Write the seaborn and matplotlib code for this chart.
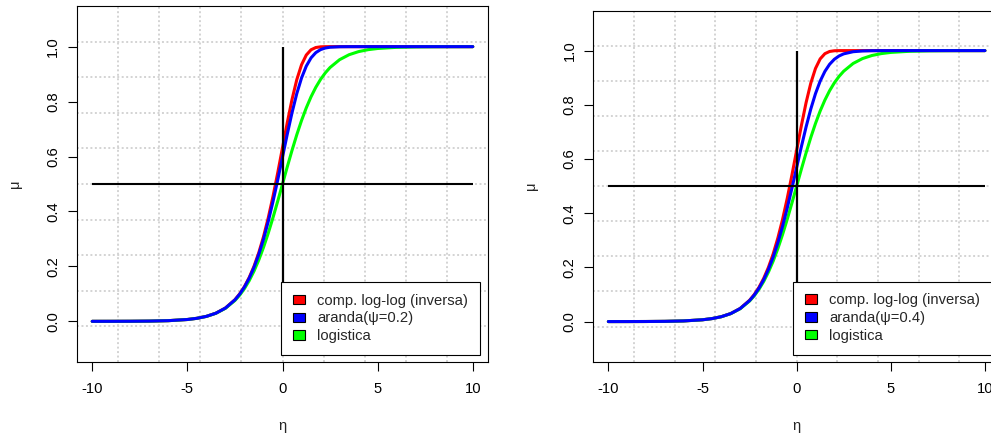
import numpy as np
import pandas as pd
import matplotlib
matplotlib.use("Agg")
import matplotlib.pyplot as plt
from matplotlib.patches import Patch
import seaborn as sns

# ---------------- data ----------------
eta = [-10, -9, -8, -7, -6, -5, -4.5, -4, -3.5, -3, -2.5,
       -2.25, -2, -1.75, -1.5, -1.25, -1, -0.75, -0.5, -0.25, 0,
       0.25, 0.5, 0.75, 1, 1.25, 1.5, 1.75, 2, 2.25, 2.5,
       3, 3.5, 4, 4.5, 5, 6, 7, 8, 9, 10]

mu_cloglog = [0.0000454, 0.0001234, 0.0003354, 0.0009115, 0.002476, 0.006715, 0.011048, 0.018149, 0.029746, 0.048568, 0.078806,
              0.100024, 0.126577, 0.159513, 0.199989, 0.249117, 0.307799, 0.376455, 0.454761, 0.541043, 0.632121,
              0.723072, 0.807704, 0.879607, 0.934012, 0.969516, 0.988686, 0.996832, 0.999382, 0.999924, 0.999995,
              1.0, 1.0, 1.0, 1.0, 1.0, 1.0, 1.0, 1.0, 1.0, 1.0]

mu_logistic = [0.0000454, 0.0001234, 0.0003354, 0.000911, 0.002473, 0.006693, 0.010987, 0.017986, 0.029312, 0.047426, 0.075858,
               0.095349, 0.119203, 0.148047, 0.182426, 0.222700, 0.268941, 0.320821, 0.377541, 0.437823, 0.5,
               0.562177, 0.622459, 0.679179, 0.731059, 0.777300, 0.817574, 0.851953, 0.880797, 0.904651, 0.924142,
               0.952574, 0.970688, 0.982014, 0.989013, 0.993307, 0.997527, 0.999089, 0.999665, 0.999877, 0.999955]

mu_aranda_02 = [0.0000454, 0.0001234, 0.0003354, 0.0009114, 0.002475, 0.006711, 0.011035, 0.018116, 0.029657, 0.048334, 0.078193,
                0.099039, 0.125003, 0.157031, 0.196112, 0.243157, 0.298809, 0.363242, 0.435870, 0.515089, 0.598122,
                0.681096, 0.759476, 0.828854, 0.885910, 0.929169, 0.959223, 0.978279, 0.989293, 0.995104, 0.997913,
                0.999685, 0.999961, 0.999996, 1.0, 1.0, 1.0, 1.0, 1.0, 1.0, 1.0]

mu_aranda_04 = [0.0000454, 0.0001234, 0.0003354, 0.0009113, 0.002475, 0.006706, 0.011023, 0.018084, 0.029570, 0.048102, 0.077591,
                0.098078, 0.123483, 0.154647, 0.192432, 0.237569, 0.290508, 0.351226, 0.419021, 0.492353, 0.568799,
                0.645215, 0.718120, 0.784250, 0.841134, 0.887482, 0.923273, 0.949521, 0.967866, 0.980139, 0.988037,
                0.995924, 0.998695, 0.999599, 0.999880, 0.999965, 0.999997, 1.0, 1.0, 1.0, 1.0]

psi_values = [0.2, 0.4]
aranda_series = [mu_aranda_02, mu_aranda_04]

label_cloglog = "comp. log-log (inversa)"
label_logistic = "logistica"
xticks = [-10, -5, 0, 5, 10]
yticks = [0.0, 0.2, 0.4, 0.6, 0.8, 1.0]
ytick_labels = ["0.0", "0.2", "0.4", "0.6", "0.8", "1.0"]
ylim_base = (-0.1, 1.1)
hline_mu = 0.5
vline_eta = 0.0

# ---------------- style ----------------
sns.set_theme(style="white")
plt.rcParams["font.family"] = ["Liberation Sans", "DejaVu Sans"]
FS = 10.6

fig = plt.figure(figsize=(9.91, 4.37), dpi=100)
W, H = 991.0, 437.0
# axes boxes in pixels: (left, top, right, bottom)
boxes = [(77, 6, 488, 362), (593.3, 10.5, 1000.0, 361.7)]
ylabel_right_px = [22.0, 538.0]

xr = max(eta) - min(eta)
xlim = (min(eta) - 0.04 * xr, max(eta) + 0.04 * xr)
yr = ylim_base[1] - ylim_base[0]
ylim = (ylim_base[0] - 0.04 * yr, ylim_base[1] + 0.04 * yr)

for i, (l, t, r, b) in enumerate(boxes):
    ax = fig.add_axes([l / W, 1 - b / H, (r - l) / W, (b - t) / H])
    ax.set_xlim(*xlim)
    ax.set_ylim(*ylim)
    ax.set_facecolor("white")

    # R-style grid(): equally spaced in plot region
    for gx in np.linspace(xlim[0], xlim[1], 11)[1:-1]:
        ax.axvline(gx, color="#D3D3D3", lw=1.4, ls=(0, (1, 1.3)), zorder=0)
    for gy in np.linspace(ylim[0], ylim[1], 11)[1:-1]:
        ax.axhline(gy, color="#D3D3D3", lw=1.4, ls=(0, (1, 1.3)), zorder=0)

    df = pd.DataFrame({"eta": eta, "cloglog": mu_cloglog,
                       "logistic": mu_logistic, "aranda": aranda_series[i]})
    sns.lineplot(data=df, x="eta", y="cloglog", color="#FF0000", lw=2.2,
                 estimator=None, ax=ax, zorder=3)
    sns.lineplot(data=df, x="eta", y="logistic", color="#00FF00", lw=2.2,
                 estimator=None, ax=ax, zorder=3)
    sns.lineplot(data=df, x="eta", y="aranda", color="#0000FF", lw=2.2,
                 estimator=None, ax=ax, zorder=3)

    ax.hlines(hline_mu, min(eta), max(eta), color="black", lw=1.5, zorder=4)
    ax.vlines(vline_eta, 0, 1, color="black", lw=1.6, zorder=4)

    ax.set_xticks(xticks)
    ax.set_xticklabels([str(v) for v in xticks], fontsize=FS, color="black")
    ax.set_yticks(yticks)
    ax.set_yticklabels(ytick_labels, fontsize=FS, color="black",
                       rotation=90, va="center")
    ax.tick_params(axis="both", direction="out", length=6.5, width=0.8,
                   color="black", bottom=True, left=True)
    ax.tick_params(axis="x", pad=8.0)
    ax.tick_params(axis="y", pad=5.5)
    for sp in ax.spines.values():
        sp.set_visible(True)
        sp.set_color("black")
        sp.set_linewidth(0.8)

    wpx = r - l
    hpx = b - t
    ax.set_xlabel("η", fontsize=FS)
    ax.set_ylabel("μ", fontsize=FS, rotation=90)
    ax.xaxis.set_label_coords(0.5, -(419 - b) / hpx)
    ax.yaxis.set_label_coords(-(l - ylabel_right_px[i]) / wpx, 0.5)

    handles = [Patch(facecolor="#FF0000", edgecolor="black", lw=0.8),
               Patch(facecolor="#0000FF", edgecolor="black", lw=0.8),
               Patch(facecolor="#00FF00", edgecolor="black", lw=0.8)]
    labels = [label_cloglog, f"aranda(ψ={psi_values[i]})", label_logistic]
    leg = ax.legend(handles, labels, loc="lower right",
                    bbox_to_anchor=(0.9805, 0.0197), fontsize=FS,
                    frameon=True, fancybox=False, shadow=False,
                    borderpad=0.8, labelspacing=0.26, handlelength=0.8,
                    handleheight=0.6, handletextpad=0.85, borderaxespad=0.0)
    leg.get_frame().set_edgecolor("black")
    leg.get_frame().set_linewidth(0.8)
    leg.get_frame().set_facecolor("white")
    leg.get_frame().set_alpha(1.0)
    leg.set_zorder(10)

fig.savefig("out.png", dpi=100, facecolor="white")
